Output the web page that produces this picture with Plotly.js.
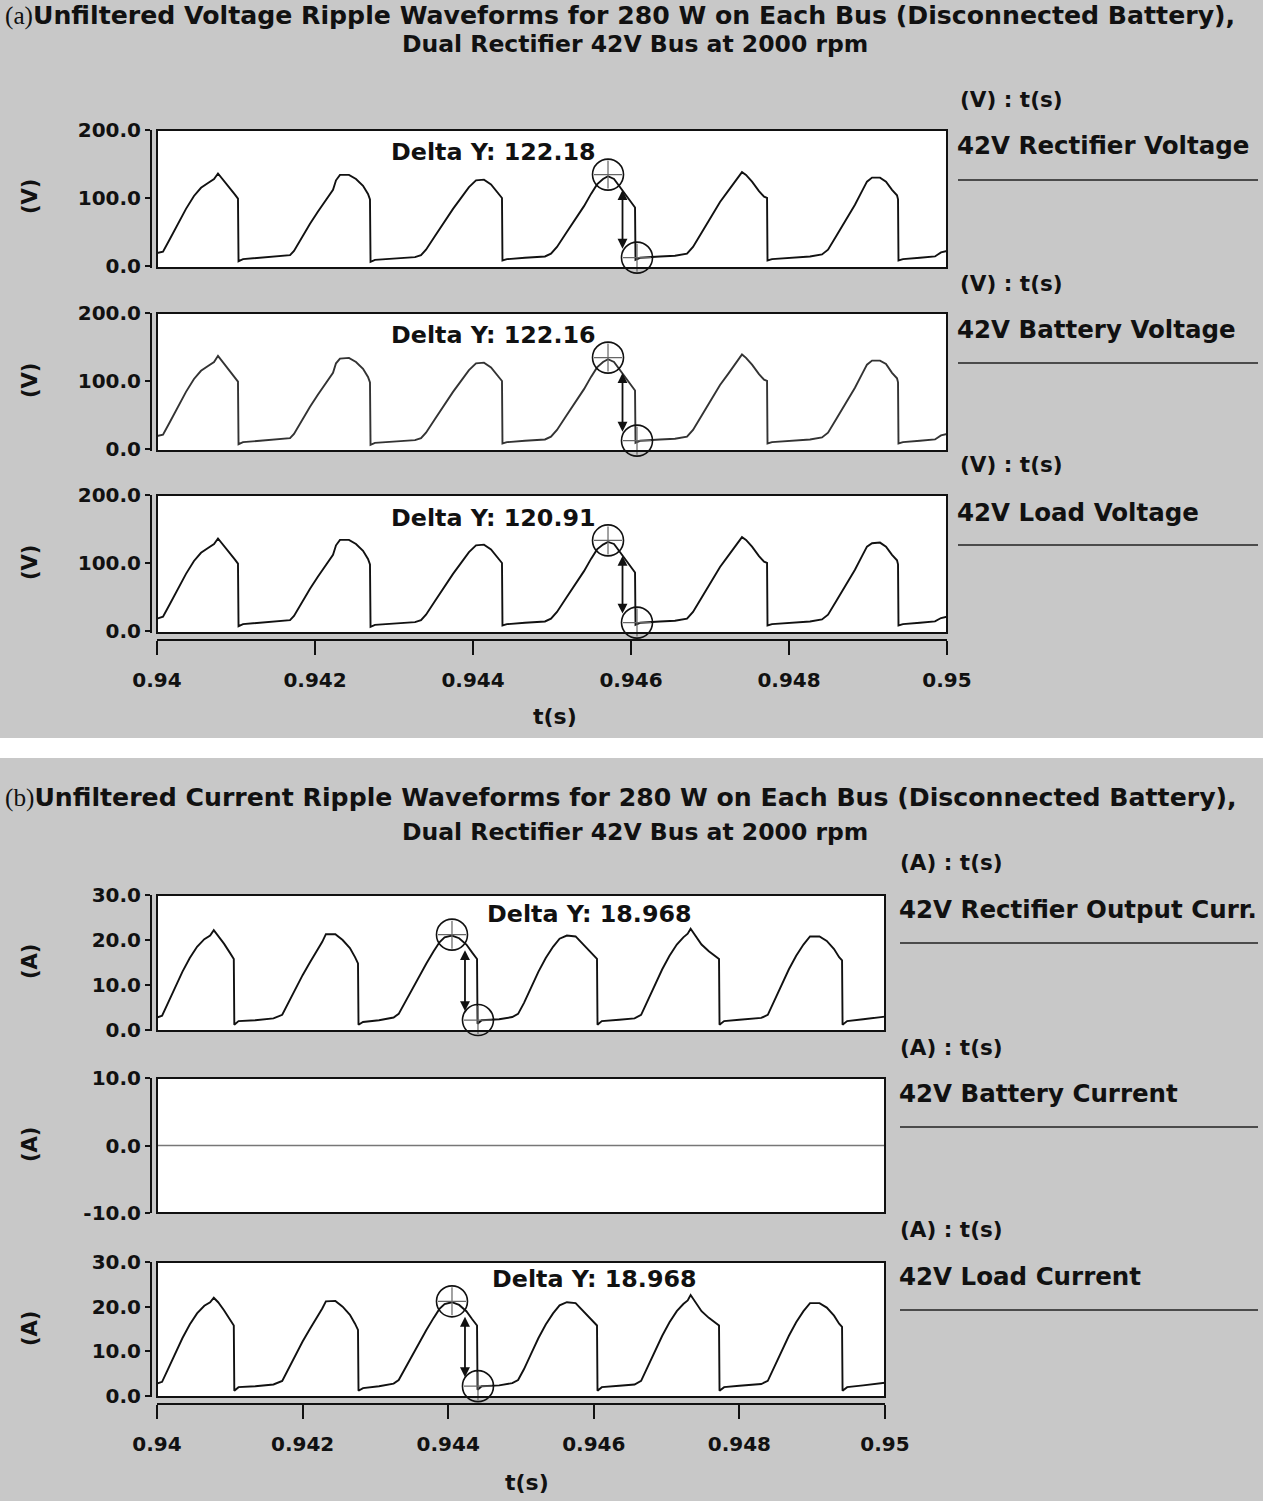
<!DOCTYPE html>
<html>
<head>
<meta charset="utf-8">
<script src="https://cdn.plot.ly/plotly-3.0.1.min.js"></script>
<style>html,body{margin:0;padding:0;background:#c8c8c8;}#chart{width:1269px;height:1501px;}</style>
</head>
<body>
<div id="chart"></div>
<script>
// ---------------- data ----------------
const xTickVals = [0.940, 0.942, 0.944, 0.946, 0.948, 0.950];
const xTickText = ["0.94", "0.942", "0.944", "0.946", "0.948", "0.95"];
const yTickValsV = [0, 100, 200];
const yTickTextV = ["0.0", "100.0", "200.0"];
const yTickValsI = [0, 10, 20, 30];
const yTickTextI = ["0.0", "10.0", "20.0", "30.0"];
const yTickValsB = [-10, 0, 10];
const yTickTextB = ["-10.0", "0.0", "10.0"];

const tV = [0.940000,0.940076,0.940165,0.940266,0.940367,0.940468,0.940557,0.940646,0.940722,0.940772,0.940823,0.940911,0.940987,0.941025,
0.941032,0.941089,0.941304,0.941557,0.941684,
0.941734,0.941835,0.941937,0.942038,0.942139,0.942228,0.942266,0.942316,0.942430,0.942519,0.942608,0.942671,0.942696,
0.942703,0.942759,0.943013,0.943266,0.943342,
0.943405,0.943519,0.943633,0.943747,0.943861,0.943949,0.944038,0.944139,0.944228,0.944316,0.944367,
0.944373,0.944430,0.944658,0.944911,0.944987,
0.945063,0.945177,0.945291,0.945405,0.945494,0.945570,0.945646,0.945709,0.945785,0.945861,0.945937,0.946013,0.946051,
0.946057,0.946114,0.946367,0.946557,0.946709,
0.946785,0.946899,0.947013,0.947127,0.947228,0.947304,0.947367,0.947405,0.947456,0.947532,0.947620,0.947684,0.947722,
0.947728,0.947785,0.948013,0.948266,0.948418,
0.948494,0.948608,0.948722,0.948835,0.948924,0.948987,0.949051,0.949152,0.949228,0.949304,0.949367,0.949380,
0.949386,0.949443,0.949658,0.949848,0.949924,0.950000];

const vRect = [19,21,40,62,84,103,115,122,128,136,129,117,105,99,
7,10,12,14,16,
22,42,62,80,98,112,126,134,134,128,118,106,98,
6,9,11,13,16,
24,44,64,84,102,116,126,127,120,108,100,
8,10,12,14,18,
28,48,68,88,106,120,128,132,128,116,104,92,86,
9,12,14,15,18,
28,50,72,94,110,122,132,138,134,124,110,102,100,
8,10,12,14,17,
24,46,68,90,110,124,130,130,124,112,104,98,
8,10,12,14,20,22];

const vBatt = [19,21,40,62,84,103,115,122,128,137,129,117,105,99,
7,10,12,14,16,
22,42,62,80,98,112,126,133,134,128,118,106,98,
6,9,11,13,16,
24,44,64,84,102,116,126,127,120,108,100,
8,10,12,14,18,
28,48,68,88,106,120,128,132,128,116,104,92,86,
9,12,14,15,18,
28,50,72,94,110,122,132,139,134,124,110,102,100,
8,10,12,14,17,
24,46,68,90,110,124,130,130,125,112,104,98,
8,10,12,14,20,22];

const vLoad = [18,21,40,62,84,103,115,122,128,136,129,117,105,99,
7,10,12,14,16,
22,42,62,80,98,112,126,134,134,128,118,106,98,
6,9,11,13,16,
24,44,64,84,102,116,126,127,120,108,100,
8,10,12,14,18,
28,48,68,88,106,120,127,131,128,116,104,92,86,
9,12,14,15,18,
28,50,72,94,110,122,132,138,134,124,110,102,100,
8,10,12,14,17,
24,46,68,90,110,124,129,130,124,112,104,98,
8,10,12,14,19,21];

const tI = [0.940000,0.940070,0.940150,0.940250,0.940350,0.940450,0.940550,0.940650,0.940730,0.940780,0.940840,0.940920,0.941000,0.941055,
0.941062,0.941120,0.941350,0.941600,0.941720,
0.941800,0.941900,0.942000,0.942100,0.942200,0.942270,0.942320,0.942450,0.942550,0.942650,0.942720,0.942761,
0.942768,0.942830,0.943050,0.943250,0.943320,
0.943400,0.943500,0.943600,0.943700,0.943800,0.943880,0.943950,0.944050,0.944150,0.944250,0.944330,0.944396,
0.944403,0.944460,0.944700,0.944880,0.944960,
0.945040,0.945140,0.945240,0.945340,0.945440,0.945530,0.945630,0.945750,0.945860,0.945960,0.946044,
0.946051,0.946110,0.946350,0.946560,0.946650,
0.946740,0.946840,0.946940,0.947040,0.947140,0.947230,0.947290,0.947330,0.947380,0.947480,0.947580,0.947680,0.947720,
0.947727,0.947790,0.948000,0.948300,0.948390,
0.948480,0.948580,0.948680,0.948780,0.948880,0.948970,0.949100,0.949200,0.949300,0.949370,0.949410,
0.949417,0.949480,0.949700,0.949900,0.950000];

const iRect = [2.8,3.2,6.0,9.5,13.0,16.0,18.5,20.2,21.0,22.2,21.0,19.2,17.2,15.8,
1.2,2.0,2.2,2.6,3.4,
6.0,9.2,12.2,15.0,17.6,19.6,21.3,21.3,20.0,18.2,16.2,14.8,
1.2,1.8,2.2,2.8,3.6,
6.0,9.0,12.0,14.8,17.5,19.5,20.6,21.0,20.4,19.0,17.2,15.8,
1.4,2.2,2.4,2.9,3.6,
6.0,9.5,13.0,16.0,18.5,20.3,21.0,20.8,19.0,17.4,15.8,
1.2,2.0,2.3,2.6,3.4,
6.5,10.0,13.5,16.5,19.0,20.6,21.4,22.5,21.4,19.0,17.5,16.2,15.8,
1.2,2.0,2.3,2.7,3.4,
6.5,10.0,13.5,16.5,19.0,20.8,20.8,19.8,18.0,16.2,15.5,
1.2,2.0,2.4,2.7,3.0];

const iLoad = [2.8,3.2,6.0,9.5,13.0,16.0,18.5,20.2,21.0,22.0,21.0,19.2,17.2,15.8,
1.2,2.0,2.2,2.6,3.4,
6.0,9.2,12.2,15.0,17.6,19.6,21.2,21.3,20.0,18.2,16.2,14.8,
1.2,1.8,2.2,2.8,3.6,
6.0,9.0,12.0,14.8,17.5,19.5,20.6,21.0,20.4,19.0,17.2,15.8,
1.4,2.2,2.4,2.9,3.6,
6.0,9.5,13.0,16.0,18.5,20.3,21.0,20.8,19.0,17.4,15.8,
1.2,2.0,2.3,2.6,3.4,
6.5,10.0,13.5,16.5,19.0,20.6,21.4,22.6,21.4,19.0,17.5,16.2,15.8,
1.2,2.0,2.3,2.7,3.4,
6.5,10.0,13.5,16.5,19.0,20.8,20.8,19.8,18.0,16.2,15.5,
1.2,2.0,2.4,2.7,3.0];

const tBatt = [0.940, 0.942, 0.944, 0.946, 0.948, 0.950];
const iBatt = [0, 0, 0, 0, 0, 0];

// cursor readings (top, bottom)
const cursorTa = [0.945709, 0.946076];
const cursorVa1 = [134.40, 12.22];
const cursorVa2 = [134.40, 12.24];
const cursorVa3 = [133.20, 12.29];
const cursorTb = [0.944052, 0.944409];
const cursorIb1 = [21.200, 2.232];
const cursorIb3 = [21.200, 2.232];

const deltaLabels = ["Delta Y: 122.18", "Delta Y: 122.16", "Delta Y: 120.91", "Delta Y: 18.968", "Delta Y: 18.968"];
const seriesNames = ["42V Rectifier Voltage", "42V Battery Voltage", "42V Load Voltage",
                     "42V Rectifier Output Curr.", "42V Battery Current", "42V Load Current"];
const titleA1 = "Unfiltered Voltage Ripple Waveforms for 280 W on Each Bus (Disconnected Battery),";
const titleB1 = "Unfiltered Current Ripple Waveforms for 280 W on Each Bus (Disconnected Battery),";
const title2 = "Dual Rectifier 42V Bus at 2000 rpm";

// ---------------- layout helpers ----------------
const W = 1269, H = 1501;
const px = x => x / W;
const py = y => 1 - y / H;
const FONT = "DejaVu Sans";
const INK = "#111111";

function wave(x, y, xa, ya, color, width) {
  return {x: x, y: y, xaxis: xa, yaxis: ya, type: "scatter", mode: "lines",
          line: {color: color || INK, width: width || 1.9}, hoverinfo: "skip", showlegend: false};
}
function cursors(x, y, xa, ya) {
  return [
    {x: x, y: y, xaxis: xa, yaxis: ya, type: "scatter", mode: "markers", cliponaxis: false,
     marker: {symbol: "cross-thin-open", size: 20, color: "#666", line: {width: 1.2, color: "#666"}},
     hoverinfo: "skip", showlegend: false},
    {x: x, y: y, xaxis: xa, yaxis: ya, type: "scatter", mode: "markers", cliponaxis: false,
     marker: {symbol: "circle-open", size: 31, color: INK, line: {width: 1.6, color: INK}},
     hoverinfo: "skip", showlegend: false}
  ];
}

const data = [
  wave(tV, vRect, "x", "y"),
  wave(tV, vBatt, "x", "y2", "#333"),
  wave(tV, vLoad, "x", "y3"),
  wave(tI, iRect, "x2", "y4"),
  wave(tBatt, iBatt, "x2", "y5", "#777", 1.5),
  wave(tI, iLoad, "x2", "y6"),
  ...cursors(cursorTa, cursorVa1, "x", "y"),
  ...cursors(cursorTa, cursorVa2, "x", "y2"),
  ...cursors(cursorTa, cursorVa3, "x", "y3"),
  ...cursors(cursorTb, cursorIb1, "x2", "y4"),
  ...cursors(cursorTb, cursorIb3, "x2", "y6")
];

function yax(top, bot, range, tickvals, ticktext) {
  return {domain: [py(bot), py(top)], range: range, anchor: "free", position: px(151),
          showline: true, linewidth: 2, linecolor: INK, ticks: "outside", ticklen: 5, tickwidth: 2,
          tickcolor: INK, tickvals: tickvals, ticktext: ticktext, showgrid: false, zeroline: false,
          ticklabelstandoff: 0,
          tickfont: {size: 20, family: FONT, weight: "bold", color: INK}, fixedrange: true};
}
function xax(left, right, lineY) {
  return {domain: [px(left), px(right)], range: [0.94, 0.95], anchor: "free", position: py(lineY),
          showline: true, linewidth: 2, linecolor: INK, ticks: "outside", ticklen: 14, tickwidth: 2,
          tickcolor: INK, tickvals: xTickVals, ticktext: xTickText, showgrid: false, zeroline: false,
          ticklabelstandoff: 8,
          tickfont: {size: 20, family: FONT, weight: "bold", color: INK}, fixedrange: true};
}

const shapes = [
  {type: "rect", xref: "paper", yref: "paper", x0: 0, x1: 1, y0: py(758), y1: py(738),
   fillcolor: "#ffffff", line: {width: 0}, layer: "below"},
  {type: "rect", xref: "paper", yref: "paper", x0: px(1263), x1: 1, y0: 0, y1: 1,
   fillcolor: "#ffffff", line: {width: 0}, layer: "below"}
];
[["x", "y"], ["x", "y2"], ["x", "y3"], ["x2", "y4"], ["x2", "y5"], ["x2", "y6"]].forEach(([xa, ya]) => {
  shapes.push({type: "rect", xref: xa + " domain", yref: ya + " domain", x0: 0, x1: 1, y0: 0, y1: 1,
               line: {color: INK, width: 2}, fillcolor: "rgba(0,0,0,0)", layer: "above"});
});
[[958, 180], [958, 363], [958, 545], [900, 943], [900, 1127], [900, 1310]].forEach(([x0, y]) => {
  shapes.push({type: "line", xref: "paper", yref: "paper", x0: px(x0), x1: px(1258), y0: py(y), y1: py(y),
               line: {color: "#222", width: 1.5}});
});

const annotations = [];
function txt(text, x, y, size, opts) {
  annotations.push(Object.assign({text: text, xref: "paper", yref: "paper", x: px(x), y: py(y),
    xanchor: "left", yanchor: "middle", showarrow: false,
    font: {family: FONT, size: size, weight: "bold", color: INK}}, opts || {}));
}
const serifA = '<span style="font-family:Liberation Serif;font-weight:normal">(a)</span>';
const serifB = '<span style="font-family:Liberation Serif;font-weight:normal">(b)</span>';
txt(serifA + titleA1, 3, 15, 25.2);
txt(title2, 635, 44, 23.5, {xanchor: "center"});
txt(serifB + titleB1, 3, 797, 25.2);
txt(title2, 635, 832, 23.5, {xanchor: "center"});

const legA = [[100, 145], [283, 330], [465, 512]];
legA.forEach(([hy, ny], i) => { txt("(V) : t(s)", 958, hy, 21.5); txt(seriesNames[i], 955, ny, 24.5); });
const legB = [[862, 909], [1047, 1093], [1229, 1276]];
legB.forEach(([hy, ny], i) => { txt("(A) : t(s)", 898, hy, 21.5); txt(seriesNames[3 + i], 897, ny, 24.5); });

[197, 381, 563].forEach(y => txt("(V)", 30, y, 21, {xanchor: "center", textangle: -90}));
[962, 1145, 1329].forEach(y => txt("(A)", 30, y, 21, {xanchor: "center", textangle: -90}));
txt("t(s)", 555, 716, 22, {xanchor: "center"});
txt("t(s)", 527, 1482, 22, {xanchor: "center"});

[[389, 152], [389, 335], [389, 518], [485, 914], [490, 1279]].forEach(([x, y], i) => txt(deltaLabels[i], x, y, 23.8));

function arrow(ct, cv, xa, ya, pxPerUnit) {
  const tm = (ct[0] + ct[1]) / 2;
  annotations.push({xref: xa, yref: ya, axref: xa, ayref: ya,
    x: tm, y: cv[1] + 9 / pxPerUnit, ax: tm, ay: cv[0] - 14 / pxPerUnit,
    text: "", showarrow: true, arrowhead: 2, arrowside: "end+start", arrowsize: 1.1,
    arrowwidth: 1.8, arrowcolor: INK, standoff: 0, startstandoff: 0});
}
arrow(cursorTa, cursorVa1, "x", "y", 0.68);
arrow(cursorTa, cursorVa2, "x", "y2", 0.68);
arrow(cursorTa, cursorVa3, "x", "y3", 0.68);
arrow(cursorTb, cursorIb1, "x2", "y4", 4.5);
arrow(cursorTb, cursorIb3, "x2", "y6", 4.5);

const layout = {
  width: W, height: H,
  margin: {l: 0, r: 0, t: 0, b: 0},
  paper_bgcolor: "#c8c8c8", plot_bgcolor: "#ffffff",
  font: {family: FONT, size: 20, weight: "bold", color: INK},
  showlegend: false,
  xaxis: xax(157, 947, 640),
  xaxis2: xax(157, 885, 1404),
  yaxis: yax(130, 268, [-3, 200], yTickValsV, yTickTextV),
  yaxis2: yax(313, 451, [-3, 200], yTickValsV, yTickTextV),
  yaxis3: yax(495, 633, [-3, 200], yTickValsV, yTickTextV),
  yaxis4: yax(895, 1031, [-0.2, 30], yTickValsI, yTickTextI),
  yaxis5: yax(1078, 1213, [-10, 10], yTickValsB, yTickTextB),
  yaxis6: yax(1262, 1397, [-0.2, 30], yTickValsI, yTickTextI),
  shapes: shapes,
  annotations: annotations
};

Plotly.newPlot("chart", data, layout, {staticPlot: true, displayModeBar: false});
</script>
</body>
</html>
